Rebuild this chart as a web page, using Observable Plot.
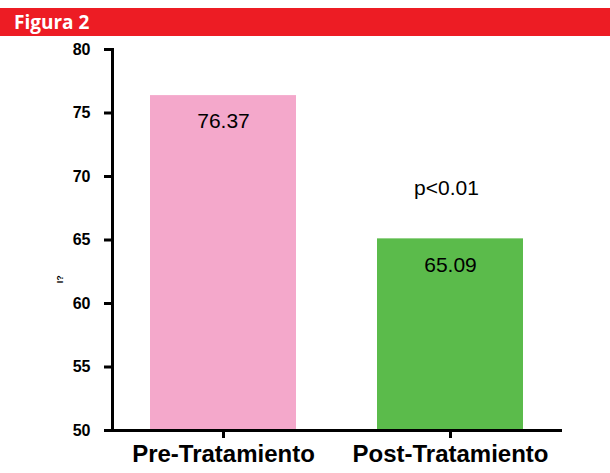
<!DOCTYPE html>
<html><head><meta charset="utf-8">
<script src="https://cdn.jsdelivr.net/npm/d3@7"></script>
<script src="https://cdn.jsdelivr.net/npm/@observablehq/plot@0.6"></script>
<style>
body{margin:0;background:#fff;width:610px;height:473px;overflow:hidden;font-family:Arial,"Liberation Sans",sans-serif;}
#banner{margin-top:8px;height:28px;background:#ED1C24;color:#fff;font-family:"Open Sans",sans-serif;font-weight:700;font-size:19px;line-height:28px;padding-left:14px;box-sizing:border-box;}
#chart svg{display:block;}
</style></head><body>
<div id="banner">Figura 2</div>
<div id="chart"></div>
<script>
const categories = ["Pre-Tratamiento", "Post-Tratamiento"];
const values = [76.37, 65.09];
const valueLabels = ["76.37", "65.09"];
const barColors = ["#F4A8CB", "#5BBB4B"];
const yTicks = [50, 55, 60, 65, 70, 75, 80];
const yDomain = [50, 80];
const pText = "p<0.01";
const pCategory = "Post-Tratamiento";
const pValue = 69.1;
const yLabel = "I?";
const yLabelValue = 61.6;

const data = categories.map((c, i) => ({category: c, value: values[i], label: valueLabels[i]}));

const plot = Plot.plot({
  width: 610, height: 437,
  marginTop: 13, marginBottom: 43, marginLeft: 112, marginRight: 48,
  style: {fontFamily: "Arial, 'Liberation Sans', sans-serif", background: "#fff", color: "#000"},
  x: {domain: categories, paddingInner: 0.355, paddingOuter: 0.168},
  y: {domain: yDomain},
  color: {domain: categories, range: barColors},
  marks: [
    Plot.barY(data, {x: "category", y1: yDomain[0], y2: "value", fill: "category"}),
    Plot.axisY({ticks: yTicks, tickSize: 8, tickPadding: 14, strokeWidth: 3, fontSize: 16, fontWeight: "bold", label: null}),
    Plot.axisX({tickSize: 8, tickPadding: 6, strokeWidth: 3, fontSize: 24, fontWeight: "bold", label: null}),
    Plot.ruleY([yDomain[0]], {strokeWidth: 3, insetLeft: -8}),
    Plot.frame({anchor: "left", strokeWidth: 3}),
    Plot.text(data, {x: "category", y: "value", text: "label", dy: 26, fontSize: 21}),
    Plot.text([pText], {x: () => pCategory, y: () => pValue, text: d => d, fontSize: 21, dx: -4}),
    Plot.text([yLabel], {frameAnchor: "left", y: () => yLabelValue, text: d => d, rotate: -90, dx: -52, fontSize: 9, fontWeight: "bold"})
  ]
});
document.getElementById("chart").appendChild(plot);
</script>
</body></html>
